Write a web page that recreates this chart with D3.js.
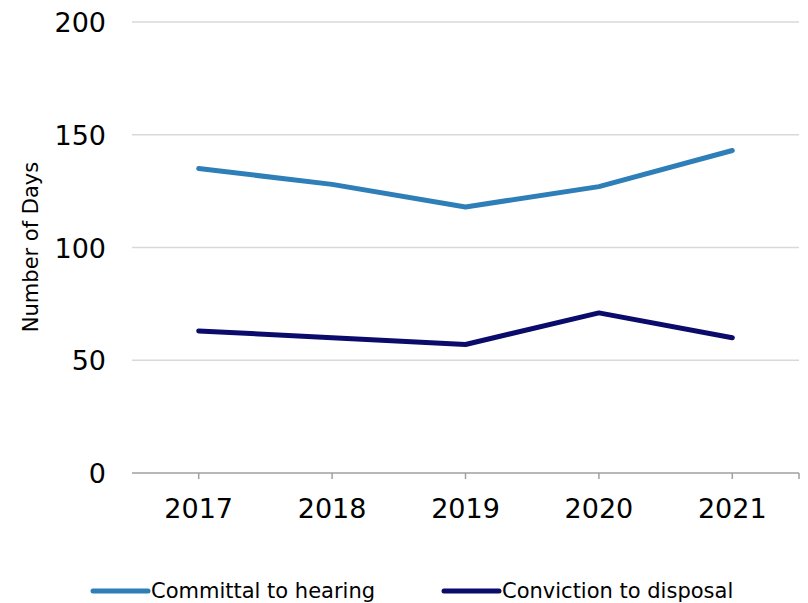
<!DOCTYPE html>
<html><head><meta charset="utf-8">
<script src="https://cdn.jsdelivr.net/npm/d3@7"></script>
<style>body{margin:0;background:#fff}svg{display:block}text{font-family:"DejaVu Sans",sans-serif;fill:#000}</style>
</head><body><div id="chart"></div>
<script>
const years = ["2017","2018","2019","2020","2021"];
const committal = [135,128,118,127,143];
const conviction = [63,60,57,71,60];
const yTicks = [0,50,100,150,200];
const seriesNames = ["Committal to hearing","Conviction to disposal"];
const seriesColors = ["#2E7EB8","#0B0B6B"];

const W=808,H=603;
const svg=d3.select("#chart").append("svg").attr("width",W).attr("height",H);
const x=d3.scaleBand().domain(years).range([132,799]);
const y=d3.scaleLinear().domain([0,200]).range([473,22]);

// gridlines
svg.append("g").selectAll("line").data(yTicks.filter(d=>d>0)).join("line")
  .attr("x1",132).attr("x2",799).attr("y1",d=>y(d)).attr("y2",d=>y(d))
  .attr("stroke","#d9d9d9").attr("stroke-width",1.5);

// y labels
svg.append("g").selectAll("text").data(yTicks).join("text")
  .attr("x",106).attr("y",d=>y(d)+10).attr("text-anchor","end")
  .attr("font-size",27).text(d=>d);

// x axis
const xa=svg.append("g");
xa.append("line").attr("x1",132).attr("x2",799).attr("y1",473).attr("y2",473).attr("stroke","#a0a0a0").attr("stroke-width",1.5);
const tickXs=years.map(d=>x(d)+x.bandwidth()/2).concat([799]);
xa.selectAll(".t").data(tickXs).join("line").attr("class","t")
  .attr("x1",d=>d).attr("x2",d=>d).attr("y1",473).attr("y2",479).attr("stroke","#a0a0a0").attr("stroke-width",1.5);
xa.selectAll("text").data(years).join("text")
  .attr("x",d=>x(d)+x.bandwidth()/2).attr("y",518).attr("text-anchor","middle")
  .attr("font-size",27).text(d=>d);

// y title
svg.append("text").attr("transform","translate(38,247) rotate(-90)")
  .attr("text-anchor","middle").attr("font-size",21).text("Number of Days");

// lines
const line=d3.line().x((d,i)=>x(years[i])+x.bandwidth()/2).y(d=>y(d));
[committal,conviction].forEach((s,i)=>{
  svg.append("path").datum(s).attr("d",line).attr("fill","none")
    .attr("stroke",seriesColors[i]).attr("stroke-width",5).attr("stroke-linecap","round").attr("stroke-linejoin","round");
});

// legend
const lg=[{x:93},{x:444}];
seriesNames.forEach((n,i)=>{
  const g=svg.append("g");
  g.append("line").attr("x1",lg[i].x).attr("x2",lg[i].x+55).attr("y1",591).attr("y2",591)
    .attr("stroke",seriesColors[i]).attr("stroke-width",5).attr("stroke-linecap","round");
  g.append("text").attr("x",lg[i].x+58).attr("y",598).attr("font-size",21).text(n);
});
</script></body></html>
